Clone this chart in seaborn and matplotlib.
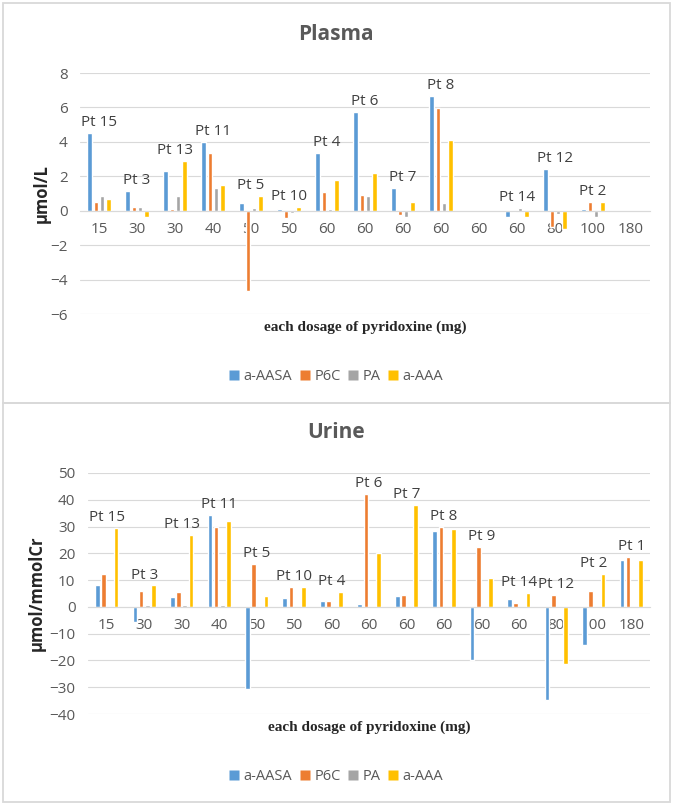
import matplotlib
matplotlib.use('agg')
import matplotlib.pyplot as plt
from matplotlib.patches import Rectangle
from matplotlib.lines import Line2D
import seaborn as sns
import pandas as pd
import numpy as np

nan = np.nan

doses = ["15", "30", "30", "40", "50", "50", "60", "60", "60", "60", "60", "60", "80", "100", "180"]
series = ["a-AASA", "P6C", "PA", "a-AAA"]
colors = ["#5B9BD5", "#ED7D31", "#A5A5A5", "#FFC000"]

plasma_pts = ["Pt 15", "Pt 3", "Pt 13", "Pt 11", "Pt 5", "Pt 10", "Pt 4", "Pt 6",
              "Pt 7", "Pt 8", "", "Pt 14", "Pt 12", "Pt 2", ""]
urine_pts = ["Pt 15", "Pt 3", "Pt 13", "Pt 11", "Pt 5", "Pt 10", "Pt 4", "Pt 6",
             "Pt 7", "Pt 8", "Pt 9", "Pt 14", "Pt 12", "Pt 2", "Pt 1"]

# plasma, umol/L
plasma_aasa = [4.5, 1.15, 2.3, 4.0, 0.43, 0.12, 3.37, 5.75, 1.3, 6.65, nan, -0.35, 2.45, 0.1, nan]
plasma_p6c = [0.5, 0.2, 0.1, 3.37, -4.67, -0.45, 1.08, 0.9, -0.27, 5.95, nan, -0.1, -0.95, 0.5, nan]
plasma_pa = [0.86, 0.2, 0.86, 1.3, 0.18, -0.12, 0.1, 0.85, -0.37, 0.42, nan, 0.17, -0.2, -0.35, nan]
plasma_aaa = [0.67, -0.37, 2.88, 1.5, 0.86, 0.2, 1.8, 2.2, 0.5, 4.1, nan, -0.35, -1.08, 0.5, nan]

# urine, umol/mmolCr
urine_aasa = [8.0, -5.5, 3.8, 34.5, -30.6, 3.3, 2.3, 0.9, 4.0, 28.5, -20.0, 2.9, -34.7, -14.3, 17.5]
urine_p6c = [12.3, 5.9, 5.5, 29.8, 15.9, 7.5, 2.3, 42.0, 4.5, 30.0, 22.2, 1.4, 4.5, 6.0, 18.6]
urine_pa = [-0.6, 0.6, 0.6, 0.6, 0.0, -0.6, 0.0, 0.0, 0.0, -0.6, -0.6, 0.0, -0.6, -0.6, 0.0]
urine_aaa = [29.4, 8.0, 26.8, 31.9, 3.9, 7.5, 5.6, 20.2, 37.9, 29.0, 10.7, 5.1, -21.2, 12.4, 17.5]


def make_df(cols):
    rows = []
    for name, vals in zip(series, cols):
        for i, v in enumerate(vals):
            rows.append({"pos": i, "series": name, "value": v})
    return pd.DataFrame(rows)


sns.set_style("whitegrid", {"grid.color": "#D9D9D9", "axes.edgecolor": "#D9D9D9"})
plt.rcParams['font.family'] = ['Open Sans', 'DejaVu Sans']

W, H = 673, 806
fig = plt.figure(figsize=(W / 100, H / 100), dpi=100)

# panel frames
for top, bot in [(3, 403), (403, 802)]:
    fig.patches.append(Rectangle((3 / W, 1 - bot / H), 667 / W, (bot - top) / H,
                                 transform=fig.transFigure, fill=False,
                                 edgecolor="#D9D9D9", lw=1.3))

panels = [
    dict(cols=[plasma_aasa, plasma_p6c, plasma_pa, plasma_aaa], pts=plasma_pts,
         title="Plasma", ylabel="\u03bcmol/L", ylim=(-6, 8), step=2,
         left=80, top=73, bot=314, title_y=35, ylab_x=42, leg_y=377),
    dict(cols=[urine_aasa, urine_p6c, urine_pa, urine_aaa], pts=urine_pts,
         title="Urine", ylabel="\u03bcmol/mmolCr", ylim=(-40, 50), step=10,
         left=88, top=473, bot=714, title_y=433, ylab_x=37, leg_y=777),
]

for p in panels:
    ax = fig.add_axes([p["left"] / W, 1 - p["bot"] / H, (650 - p["left"]) / W,
                       (p["bot"] - p["top"]) / H])
    df = make_df(p["cols"])
    sns.barplot(data=df, x="pos", y="value", hue="series", order=list(range(15)),
                hue_order=series, palette=colors, width=0.66, gap=0.25,
                saturation=1, legend=False, ax=ax)
    lo, hi = p["ylim"]
    ax.set_ylim(lo, hi)
    ax.set_yticks(np.arange(lo, hi + 1, p["step"]))
    ax.set_xticks(range(15))
    ax.set_xticklabels(doses)
    ax.set_xlim(-0.5, 14.5)
    ax.spines["bottom"].set_position(("data", 0))
    for s in ["top", "left", "right"]:
        ax.spines[s].set_visible(False)
    ax.spines["bottom"].set_color("#D9D9D9")
    ax.grid(axis="x", visible=False)
    ax.tick_params(axis="x", length=0, pad=8, labelsize=11, labelcolor="#595959")
    ax.tick_params(axis="y", length=0, pad=9, labelsize=11, labelcolor="#595959")
    ax.set_xlabel("")
    ax.set_ylabel("")

    # patient labels above each group
    for i, lab in enumerate(p["pts"]):
        if not lab:
            continue
        top_val = max(0, np.nanmax([c[i] for c in p["cols"]]))
        ax.annotate(lab, (i, top_val), xytext=(0, 5), textcoords="offset points",
                    ha="center", va="baseline", fontsize=11, color="#404040")

    handles = [Line2D([], [], marker="s", markersize=7.5, linestyle="none",
                      markerfacecolor=c, markeredgecolor="none", label=s)
               for s, c in zip(series, colors)]
    leg = ax.legend(handles=handles, loc="center",
                    bbox_to_anchor=(336 / W, 1 - p["leg_y"] / H),
                    bbox_transform=fig.transFigure, ncol=4, frameon=False,
                    fontsize=10.5, handlelength=0.7, handletextpad=0.3,
                    columnspacing=0.5)
    for t in leg.get_texts():
        t.set_color("#595959")

    fig.text(336 / W, 1 - p["title_y"] / H, p["title"], ha="center", va="center",
             fontsize=15, fontweight="bold", color="#595959")
    fig.text(p["ylab_x"] / W, 1 - (p["top"] + p["bot"]) / 2 / H, p["ylabel"],
             rotation=90, ha="center", va="center", fontsize=12,
             fontweight="bold", color="#262626")
    fig.text((p["left"] + 650) / 2 / W, 1 - (p["bot"] + 13) / H,
             "each dosage of pyridoxine (mg)", ha="center", va="center",
             fontsize=11, fontweight="bold", family="Liberation Serif", color="#262626")

plt.savefig("out.png", dpi=100)
plt.close()
